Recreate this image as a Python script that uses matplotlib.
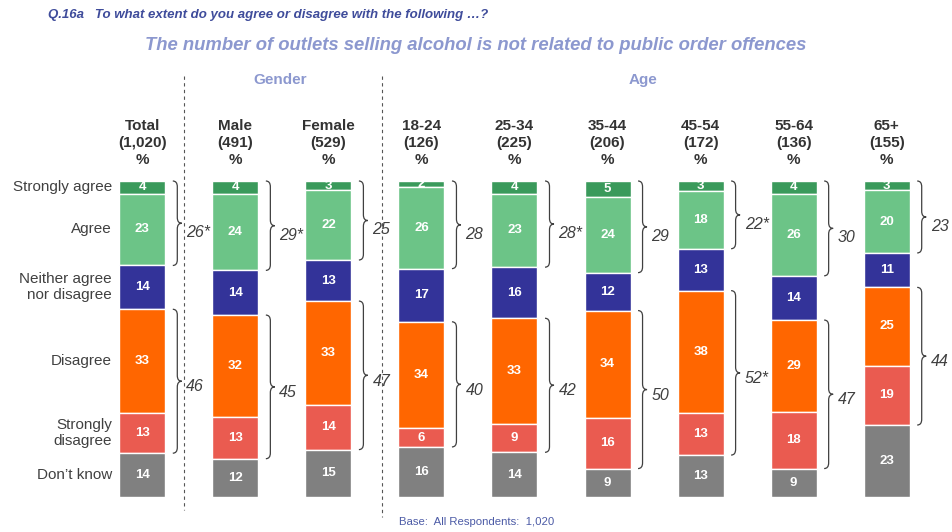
import matplotlib
matplotlib.use("Agg")
import matplotlib.pyplot as plt
from matplotlib.path import Path
from matplotlib.patches import PathPatch

plt.rcParams['font.family'] = ['Liberation Sans', 'DejaVu Sans']

# ---- data ----
categories = ["Total", "Male", "Female", "18-24", "25-34", "35-44", "45-54", "55-64", "65+"]
bases = ["1,020", "491", "529", "126", "225", "206", "172", "136", "155"]
row_labels = ["Strongly agree", "Agree", "Neither agree\nnor disagree", "Disagree",
              "Strongly\ndisagree", "Don\u2019t know"]
strongly_agree = [4, 4, 3, 2, 4, 5, 3, 4, 3]
agree = [23, 24, 22, 26, 23, 24, 18, 26, 20]
neither = [14, 14, 13, 17, 16, 12, 13, 14, 11]
disagree = [33, 32, 33, 34, 33, 34, 38, 29, 25]
strongly_disagree = [13, 13, 14, 6, 9, 16, 13, 18, 19]
dont_know = [14, 12, 15, 16, 14, 9, 13, 9, 23]
net_agree = ["26*", "29*", "25", "28", "28*", "29", "22*", "30", "23"]
net_disagree = ["46", "45", "47", "40", "42", "50", "52*", "47", "44"]

series = [strongly_agree, agree, neither, disagree, strongly_disagree, dont_know]
colors = ["#3A9A5B", "#6CC487", "#333399", "#FF6600", "#EA5B50", "#808080"]

# ---- layout helpers (pixel -> data / figure coords) ----
W, H = 953, 532
X0, DX = 142.3, 93.05          # pixel x of first column, column pitch
YT, YB = 181, 497              # pixel y of bar top / bottom


def px_x(p):
    return (p - X0) / DX


def px_y(p):
    return (p - YT) / (YB - YT) * 100


def fx(p):
    return p / W


def fy(p):
    return 1 - p / H


fig = plt.figure(figsize=(W / 100, H / 100), dpi=100)
ax = fig.add_axes([0, 1 - YB / H, 1, (YB - YT) / H])
ax.set_xlim(px_x(0), px_x(W))
ax.set_ylim(100, 0)
ax.axis("off")

text_dark = "#404040"
accent = "#8C98CF"


def brace(xc, y0, y1, label, dy):
    x0 = xc + 30.5 / DX
    xm = xc + 35 / DX
    x1 = xc + 39.5 / DX
    r = min(1.8, (y1 - y0) / 4)
    ym = (y0 + y1) / 2
    verts = [(x0, y0), (xm, y0), (xm, y0 + r), (xm, ym - r), (xm, ym), (x1, ym),
             (xm, ym), (xm, ym + r), (xm, y1 - r), (xm, y1), (x0, y1)]
    codes = [Path.MOVETO, Path.CURVE3, Path.CURVE3, Path.LINETO, Path.CURVE3, Path.CURVE3,
             Path.CURVE3, Path.CURVE3, Path.LINETO, Path.CURVE3, Path.CURVE3]
    ax.add_patch(PathPatch(Path(verts, codes), fill=False, edgecolor=text_dark,
                           lw=0.9, clip_on=False))
    ax.text(xc + 44 / DX, ym + dy, label, ha="left", va="center", fontsize=11.5,
            style="italic", color=text_dark, clip_on=False)


bar_w = 46 / DX
for i, cat in enumerate(categories):
    vals = [s[i] for s in series]
    scale = 100 / sum(vals)
    bottom = 0
    tops = []
    for v, c in zip(vals, colors):
        h = v * scale
        ax.bar(i, h, bottom=bottom, width=bar_w, color=c, edgecolor="white", linewidth=1)
        ax.text(i, bottom + h / 2, str(v), ha="center", va="center", color="white",
                fontsize=9.5, fontweight="bold")
        tops.append(bottom)
        bottom += h
    tops.append(bottom)
    # column header
    ax.text(i, px_y(143), f"{cat}\n({bases[i]})\n%", ha="center", va="center",
            fontsize=11, fontweight="bold", color="#333333", linespacing=1.24, clip_on=False)
    # net braces
    brace(i, tops[0], tops[2], net_agree[i], 3.0)
    brace(i, tops[3], tops[5], net_disagree[i], 1.8)
    if i == 0:
        for k, lab in enumerate(row_labels):
            yc = (tops[k] + tops[k + 1]) / 2
            ax.text(px_x(112), yc, lab, ha="right", va="center", fontsize=11,
                    color=text_dark, linespacing=1.18, clip_on=False)

# group separators
for xp, y_end in [(184.5, 510), (382.5, 517)]:
    ax.plot([px_x(xp)] * 2, [px_y(76), px_y(y_end)], color="#555555", lw=0.8,
            ls=(0, (3, 3)), clip_on=False)

# titles
fig.text(fx(48), fy(15), "Q.16a   To what extent do you agree or disagree with the following \u2026?",
         ha="left", va="center", fontsize=9.5, fontweight="bold", style="italic", color="#3F4C9B")
fig.text(fx(476), fy(46), "The number of outlets selling alcohol is not related to public order offences",
         ha="center", va="center", fontsize=13.3, fontweight="bold", style="italic", color=accent)
fig.text(fx(280), fy(80), "Gender", ha="center", va="center", fontsize=11,
         fontweight="bold", color=accent)
fig.text(fx(643), fy(80), "Age", ha="center", va="center", fontsize=11,
         fontweight="bold", color=accent)
fig.text(fx(477), fy(522), "Base:  All Respondents:  1,020", ha="center", va="center",
         fontsize=8.2, color="#4C5BA6")

fig.savefig("out.png", dpi=100)
